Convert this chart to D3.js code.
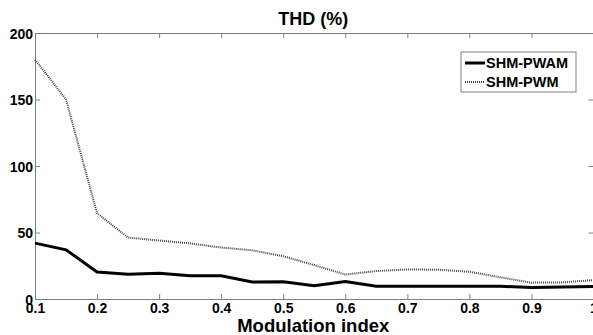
<!DOCTYPE html>
<html>
<head>
<meta charset="utf-8">
<script src="https://cdn.jsdelivr.net/npm/d3@7"></script>
<style>
  body { margin: 0; background: #fff; }
  text { font-family: "Liberation Sans", Arial, sans-serif; }
</style>
</head>
<body>
<div id="chart"></div>
<script>
// modulation index values
const mIndex = [0.1, 0.15, 0.2, 0.25, 0.3, 0.35, 0.4, 0.45, 0.5, 0.55, 0.6, 0.65, 0.7, 0.75, 0.8, 0.85, 0.9, 0.95, 1.0];
const pwam = [42, 37, 20.3, 18.7, 19.3, 17.5, 17.5, 12.8, 13, 10, 13.2, 9.6, 9.6, 9.6, 9.6, 9.6, 8.6, 9, 9.5];
const pwm = [180, 150, 64.5, 46.2, 44, 41.8, 38.7, 36.6, 32.2, 25.5, 18.4, 21, 22.2, 22, 20.5, 16.3, 12.3, 12.5, 14.2];
const xTicks = [0.1, 0.2, 0.3, 0.4, 0.5, 0.6, 0.7, 0.8, 0.9, 1];
const yTicks = [0, 50, 100, 150, 200];

const width = 593, height = 335;
const plotLeft = 35, plotRight = 593.5, plotTop = 33, plotBottom = 299;

const svg = d3.select('#chart').append('svg')
    .attr('width', width)
    .attr('height', height);

const x = d3.scaleLinear().domain([0.1, 1]).range([plotLeft, plotRight]);
const y = d3.scaleLinear().domain([0, 200]).range([plotBottom, plotTop]);

const axisColor = '#808080';

// bottom axis with labels
const gx = svg.append('g').attr('transform', `translate(0,${plotBottom})`)
    .call(d3.axisBottom(x).tickValues(xTicks).tickSizeInner(-5).tickSizeOuter(0).tickPadding(4)
        .tickFormat(d => d === 1 ? '1' : d3.format('.1f')(d)));
// top axis
const gxt = svg.append('g').attr('transform', `translate(0,${plotTop})`)
    .call(d3.axisTop(x).tickValues(xTicks).tickSizeInner(-5).tickSizeOuter(0).tickFormat(''));
// left axis
const gy = svg.append('g').attr('transform', `translate(${plotLeft},0)`)
    .call(d3.axisLeft(y).tickValues(yTicks).tickSizeInner(-5).tickSizeOuter(0).tickPadding(2));
// right axis
const gyr = svg.append('g').attr('transform', `translate(${plotRight},0)`)
    .call(d3.axisRight(y).tickValues(yTicks).tickSizeInner(-5).tickSizeOuter(0).tickFormat(''));

[gx, gxt, gy, gyr].forEach(g => {
    g.selectAll('path, line').attr('stroke', axisColor);
    g.selectAll('text').attr('fill', '#000').style('font-size', '14px').style('font-weight', 'bold')
        .style('font-family', '"Liberation Sans", Arial, sans-serif');
});
gx.selectAll('text').attr('dy', '0.72em');
gy.selectAll('text').attr('dy', '0.36em');

const line = d3.line().x((d, i) => x(mIndex[i])).y(d => y(d));

svg.append('path')
    .datum(pwm)
    .attr('d', line)
    .attr('fill', 'none')
    .attr('stroke', '#444')
    .attr('stroke-width', 2)
    .attr('stroke-dasharray', '1,1');

svg.append('path')
    .datum(pwam)
    .attr('d', line)
    .attr('fill', 'none')
    .attr('stroke', '#000')
    .attr('stroke-width', 3);

// title and x label
svg.append('text')
    .attr('x', (plotLeft + plotRight) / 2 - 1).attr('y', 25)
    .attr('text-anchor', 'middle')
    .style('font-size', '18px').style('font-weight', 'bold')
    .text('THD (%)');

svg.append('text')
    .attr('x', (plotLeft + plotRight) / 2 - 1).attr('y', 332)
    .attr('text-anchor', 'middle')
    .style('font-size', '18.5px').style('font-weight', 'bold')
    .text('Modulation index');

// legend
const legend = svg.append('g').attr('transform', 'translate(461,52)');
legend.append('rect')
    .attr('width', 115).attr('height', 40)
    .attr('fill', '#fff').attr('stroke', axisColor);
const series = [
    { name: 'SHM-PWAM', color: '#000', w: 3, dash: null },
    { name: 'SHM-PWM', color: '#444', w: 2, dash: '1,1' }
];
series.forEach((s, i) => {
    const ly = 11 + i * 19;
    legend.append('line')
        .attr('x1', 4).attr('x2', 24).attr('y1', ly).attr('y2', ly)
        .attr('stroke', s.color).attr('stroke-width', s.w)
        .attr('stroke-dasharray', s.dash);
    legend.append('text')
        .attr('x', 25).attr('y', ly).attr('dy', '0.36em')
        .style('font-size', '14.5px').style('font-weight', 'bold')
        .text(s.name);
});
</script>
</body>
</html>
